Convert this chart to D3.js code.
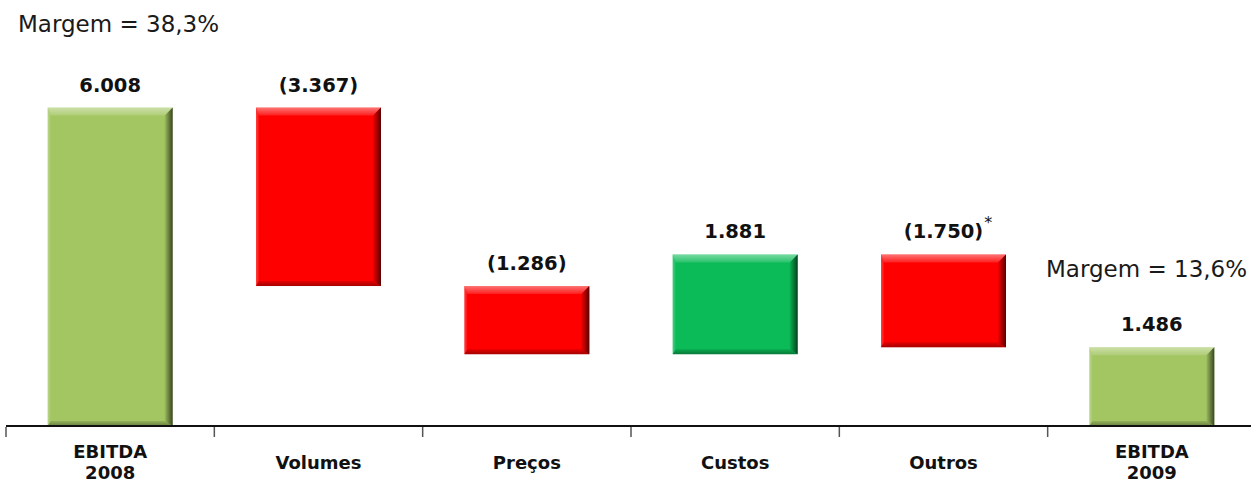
<!DOCTYPE html>
<html>
<head>
<meta charset="utf-8">
<script src="https://cdn.jsdelivr.net/npm/d3@7"></script>
<style>
  html, body { margin: 0; padding: 0; background: #fff; }
  svg { display: block; }
</style>
</head>
<body>
<svg id="chart" width="1251" height="483"></svg>
<script>
// EBITDA bridge 2008 -> 2009 (R$ milhões)
const categories = ["EBITDA 2008", "Volumes", "Preços", "Custos", "Outros", "EBITDA 2009"];
const categoryLines = [["EBITDA", "2008"], ["Volumes"], ["Preços"], ["Custos"], ["Outros"], ["EBITDA", "2009"]];
const values = [6008, -3367, -1286, 1881, -1750, 1486];
const barKinds = ["total", "delta", "delta", "delta", "delta", "total"];
const footnoteMarks = ["", "", "", "", "*", ""];
const marginNotes = ["Margem = 38,3%", "Margem = 13,6%"];

const W = 1251, H = 483;
const baseY = 426;
const FONT = "DejaVu Sans, Verdana, sans-serif";

const svg = d3.select("#chart");
const defs = svg.append("defs");

const fmt = d3.formatLocale({ decimal: ",", thousands: ".", grouping: [3], currency: ["R$", ""] }).format(",d");
const labelOf = v => v < 0 ? "(" + fmt(-v) + ")" : fmt(v);

// running totals for the waterfall
let running = 0;
const bars = values.map((v, i) => {
  let lo, hi;
  if (barKinds[i] === "total") { lo = 0; hi = v; running = v; }
  else { const prev = running; running += v; lo = Math.min(prev, running); hi = Math.max(prev, running); }
  return { cat: categories[i], lines: categoryLines[i], v, lo, hi, kind: barKinds[i], mark: footnoteMarks[i] };
});

const x = d3.scaleBand().domain(categories).range([6, 1256]).paddingInner(0.4).paddingOuter(0.2);
const y = d3.scaleLinear().domain([0, 6500]).range([baseY, baseY - 6500 * 0.053]);

const fillOf = d => d.kind === "total" ? "#a3c663" : (d.v < 0 ? "#fe0000" : "#0bbb57");

// bevel gradients
function grad(id, x1, y1, x2, y2, stops) {
  const g = defs.append("linearGradient").attr("id", id)
    .attr("x1", x1).attr("y1", y1).attr("x2", x2).attr("y2", y2);
  stops.forEach(s => g.append("stop").attr("offset", s[0]).attr("stop-color", s[1]).attr("stop-opacity", s[2]));
}
grad("bevTop", 0, 0, 0, 1, [[0, "#fff", 0.45], [1, "#fff", 0.12]]);
grad("bevRight", 0, 0, 1, 0, [[0, "#000", 0.05], [1, "#000", 0.65]]);
grad("bevBottom", 0, 0, 0, 1, [[0, "#000", 0.1], [1, "#000", 0.35]]);
grad("bevLeft", 0, 0, 1, 0, [[0, "#fff", 0.25], [1, "#fff", 0.05]]);

const g = svg.append("g");
const bw = x.bandwidth();

bars.forEach(d => {
  const x0 = x(d.cat), y0 = y(d.hi), y1 = y(d.lo), h = y1 - y0;
  const bt = 8, br = 8, bb = 5, bl = 3;
  const grp = g.append("g");
  grp.append("rect").attr("x", x0).attr("y", y0).attr("width", bw).attr("height", h).attr("fill", fillOf(d));
  const poly = pts => pts.map(p => p.join(",")).join(" ");
  grp.append("polygon").attr("points", poly([[x0, y0], [x0 + bw, y0], [x0 + bw - br, y0 + bt], [x0 + bl, y0 + bt]])).attr("fill", "url(#bevTop)");
  grp.append("polygon").attr("points", poly([[x0, y0], [x0 + bl, y0 + bt], [x0 + bl, y1 - bb], [x0, y1]])).attr("fill", "url(#bevLeft)");
  grp.append("polygon").attr("points", poly([[x0 + bw, y0], [x0 + bw, y1], [x0 + bw - br, y1 - bb], [x0 + bw - br, y0 + bt]])).attr("fill", "url(#bevRight)");
  grp.append("polygon").attr("points", poly([[x0, y1], [x0 + bw, y1], [x0 + bw - br, y1 - bb], [x0 + bl, y1 - bb]])).attr("fill", "url(#bevBottom)");

  // value label above the bar
  const cx = x0 + bw / 2;
  const t = grp.append("text")
    .attr("x", cx).attr("y", y0 - 16)
    .attr("text-anchor", "middle")
    .attr("font-family", FONT)
    .attr("font-weight", "bold").attr("font-size", 19.5).attr("fill", "#111")
    .text(labelOf(d.v));
  if (d.mark) {
    const len = t.node().getComputedTextLength();
    grp.append("text")
      .attr("x", cx + len / 2 + 1).attr("y", y0 - 26)
      .attr("font-family", FONT)
      .attr("font-size", 16).attr("fill", "#111")
      .text(d.mark);
  }
});

// category axis: baseline with boundary ticks
const half = x.step() * x.paddingInner() / 2;
const bounds = categories.map(c => x(c) - half).concat([x(categories[categories.length - 1]) + x.bandwidth() + half]);
svg.append("line").attr("x1", 6).attr("x2", W).attr("y1", baseY).attr("y2", baseY)
  .attr("stroke", "#111").attr("stroke-width", 2);
svg.selectAll("line.tick").data(bounds).join("line").attr("class", "tick")
  .attr("x1", d => d).attr("x2", d => d).attr("y1", baseY + 1).attr("y2", baseY + 11)
  .attr("stroke", "#555").attr("stroke-width", 1.5);

bars.forEach(d => {
  const cx = x(d.cat) + bw / 2;
  const n = d.lines.length;
  d.lines.forEach((ln, j) => {
    svg.append("text")
      .attr("x", cx).attr("y", n === 1 ? 469 : 458 + j * 20.5)
      .attr("text-anchor", "middle")
      .attr("font-family", FONT)
      .attr("font-weight", "bold").attr("font-size", 18).attr("fill", "#111")
      .text(ln);
  });
});

// margin notes
svg.append("text").attr("x", 18).attr("y", 32)
  .attr("font-family", FONT).attr("font-size", 23).attr("fill", "#1a1a1a")
  .text(marginNotes[0]);
svg.append("text").attr("x", 1046).attr("y", 277)
  .attr("font-family", FONT).attr("font-size", 23).attr("fill", "#1a1a1a")
  .text(marginNotes[1]);
</script>
</body>
</html>
